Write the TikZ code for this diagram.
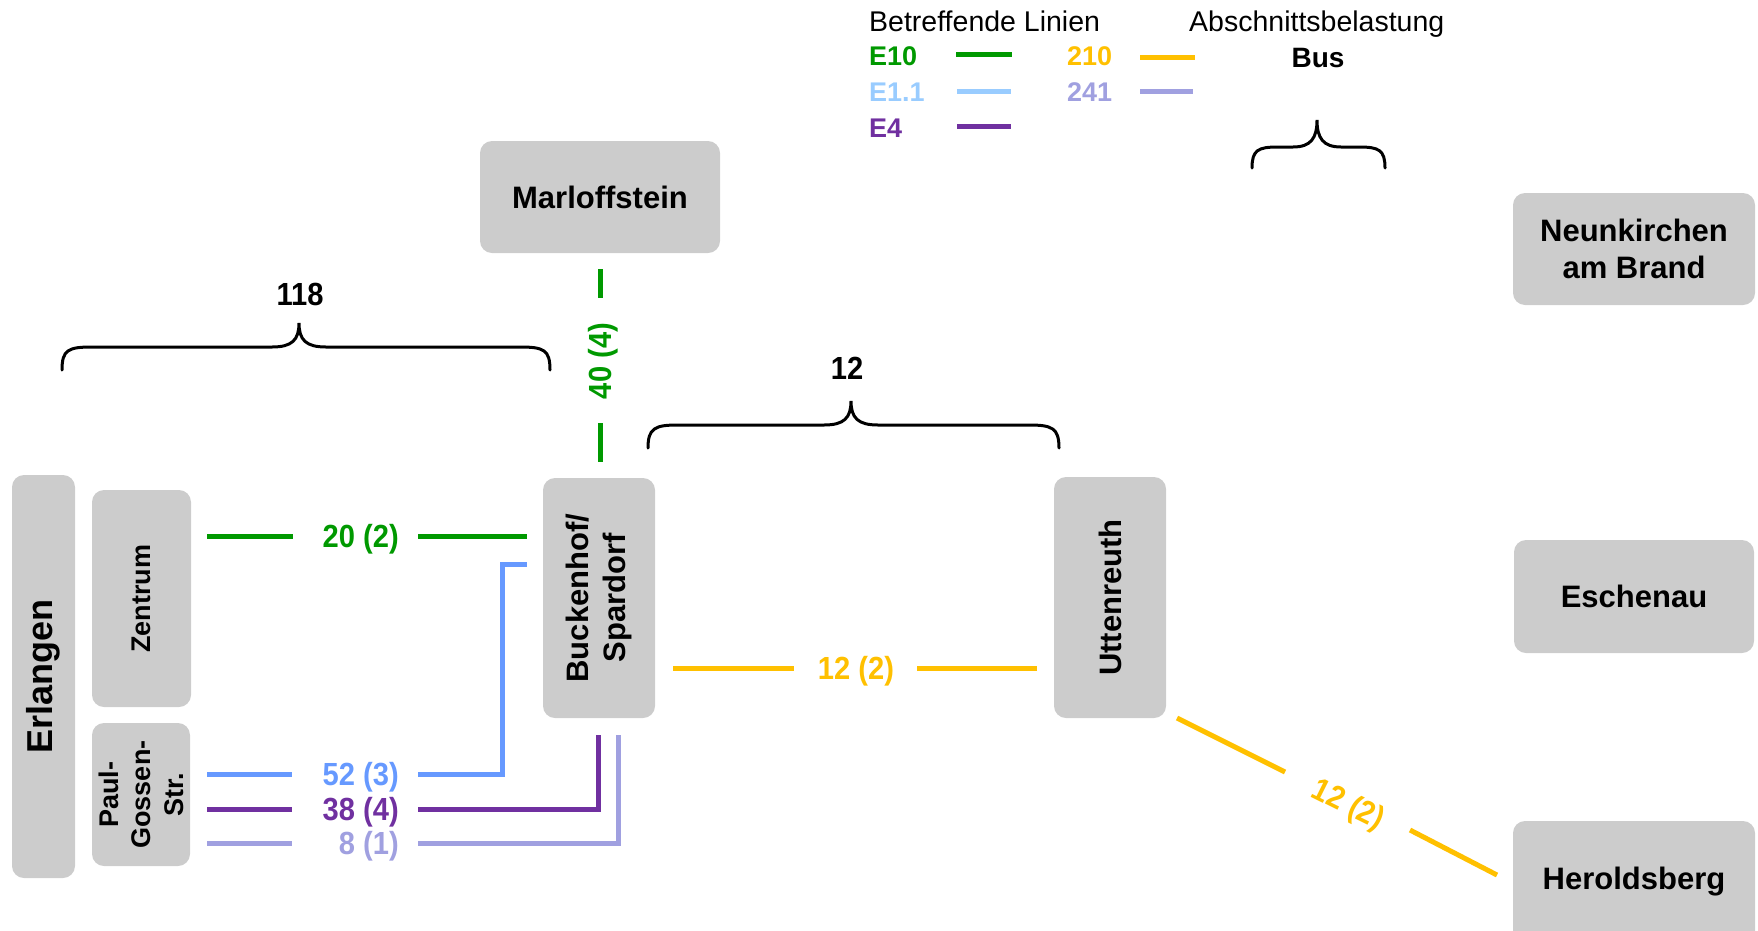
\documentclass[tikz,border=0pt]{standalone}
\usepackage{fontspec}
\setmainfont{Liberation Sans}
\newfontfamily\condfont{Liberation Sans}[FakeStretch=0.91]

\definecolor{boxgray}{HTML}{CCCCCC}
\definecolor{cEten}{HTML}{009900}
\definecolor{cEone}{HTML}{99CCFF}
\definecolor{cEoneline}{HTML}{6699FF}
\definecolor{cEfour}{HTML}{7030A0}
\definecolor{cBusA}{HTML}{FFC000}
\definecolor{cBusB}{RGB}{160,160,224}

\tikzset{
  station/.style={fill=boxgray, rounded corners=12pt, inner sep=0pt, align=center,
    font=\bfseries\fontsize{31}{37}\selectfont},
  smallstation/.style={station, font=\bfseries\fontsize{27}{32.4}\selectfont},
  numlab/.style={inner sep=0pt, text height=23pt, text depth=0pt,
    font=\condfont\bfseries\fontsize{32}{38}\selectfont},
  legtext/.style={inner sep=0pt, anchor=base west, font=\bfseries\fontsize{27}{32}\selectfont},
  hdrtext/.style={inner sep=0pt, anchor=base west, font=\fontsize{28.5}{34}\selectfont},
  route/.style={line width=5pt},
  brace/.style={line width=3pt, line cap=round, black},
}

\begin{document}
\begin{tikzpicture}[x=1pt,y=-1pt]
\useasboundingbox (0,0) rectangle (1758,930);
\clip (0,0) rectangle (1758,930);

% ---------- stations ----------
\node[station, rotate=90, minimum width=403pt, minimum height=63pt,
      font=\bfseries\fontsize{36}{43}\selectfont] (erl) at (43.5,676.5) {Erlangen};
\node[smallstation, rotate=90, minimum width=217pt, minimum height=99pt] (zen) at (141.5,598.5) {Zentrum};
\node[smallstation, rotate=90, minimum width=143pt, minimum height=98pt] (pgs) at (141,794.5) {Paul-\\Gossen-\\Str.};
\node[station, rotate=90, minimum width=240pt, minimum height=112pt] (buc) at (599,598) {Buckenhof/\\Spardorf};
\node[station, minimum width=240pt, minimum height=112pt] (mar) at (600,197) {Marloffstein};
\node[station, rotate=90, minimum width=241pt, minimum height=112pt] (utt) at (1110,597.5) {Uttenreuth};
\node[station, minimum width=242pt, minimum height=112pt] (neu) at (1634,249) {Neunkirchen\\am Brand};
\node[station, minimum width=240pt, minimum height=113pt] (esc) at (1634,596.5) {Eschenau};
\node[station, minimum width=242pt, minimum height=122pt] (her) at (1634,882) {Heroldsberg};

% ---------- E10 Zentrum -- Buckenhof ----------
\node[numlab, text=cEten, anchor=east] (lzen) at (399,536) {20 (2)};
\coordinate (za) at (207,536); \coordinate (zb) at (293,536);
\coordinate (zc) at (418,536); \coordinate (zd) at (527,536);
\draw[route, cEten] (za) -- (zb);
\draw[route, cEten] (zc) -- (zd);

% ---------- E1.1 Paul-Gossen-Str. -- Buckenhof ----------
\node[numlab, text=cEoneline, anchor=east] (lpa) at (399,774) {52 (3)};
\coordinate (pa1) at (207,774); \coordinate (pa2) at (292,774);
\coordinate (pa3) at (418,774); \coordinate (pa4) at (502,774);
\coordinate (pa5) at (502,564); \coordinate (pa6) at (527,564);
\draw[route, cEoneline] (pa1) -- (pa2);
\draw[route, cEoneline] (pa3) -- (pa4) -- (pa5) -- (pa6);

% ---------- E4 ----------
\node[numlab, text=cEfour, anchor=east] (lpb) at (399,809) {38 (4)};
\coordinate (pb1) at (207,809); \coordinate (pb2) at (292,809);
\coordinate (pb3) at (418,809); \coordinate (pb4) at (598,809);
\coordinate (pb5) at (598,735);
\draw[route, cEfour] (pb1) -- (pb2);
\draw[route, cEfour] (pb3) -- (pb4) -- (pb5);

% ---------- 241 ----------
\node[numlab, text=cBusB, anchor=east] (lpc) at (399,843) {8 (1)};
\coordinate (pc1) at (207,843); \coordinate (pc2) at (292,843);
\coordinate (pc3) at (418,843); \coordinate (pc4) at (618,843);
\coordinate (pc5) at (618,735);
\draw[route, cBusB] (pc1) -- (pc2);
\draw[route, cBusB] (pc3) -- (pc4) -- (pc5);

% ---------- E10 Marloffstein -- Buckenhof ----------
\node[numlab, text=cEten, rotate=90] (lmar) at (600,361) {40 (4)};
\coordinate (ma) at (600,269); \coordinate (mb) at (600,298);
\coordinate (mc) at (600,423); \coordinate (md) at (600,462);
\draw[route, cEten] (ma) -- (mb);
\draw[route, cEten] (mc) -- (md);

% ---------- 210 Buckenhof -- Uttenreuth -- Heroldsberg ----------
\node[numlab, text=cBusA] (lutt) at (856,668) {12 (2)};
\coordinate (ua) at (673,668); \coordinate (ub) at (794,668);
\coordinate (uc) at (917,668); \coordinate (ud) at (1037,668);
\draw[route, cBusA] (ua) -- (ub);
\draw[route, cBusA] (uc) -- (ud);

\node[numlab, text=cBusA, rotate=-26.5] (lher) at (1349,803) {12 (2)};
\coordinate (ha) at (1177,718); \coordinate (hb) at (1285,772);
\coordinate (hc) at (1410,830); \coordinate (hd) at (1497,875);
\draw[route, cBusA] (ha) -- (hb);
\draw[route, cBusA] (hc) -- (hd);

% ---------- section load braces ----------
\draw[brace] (62,370) .. controls (62,350) and (68,347) .. (92,347) -- (272,347)
  .. controls (292,347) and (299,340) .. (299,323)
  .. controls (299,340) and (306,347) .. (326,347) -- (520,347)
  .. controls (544,347) and (550,350) .. (550,370);
\node[numlab] (sumerl) at (300,294) {118};

\draw[brace] (648,448) .. controls (648,428) and (655,425) .. (678,425) -- (824,425)
  .. controls (844,425) and (851,418) .. (851,401)
  .. controls (851,418) and (858,425) .. (878,425) -- (1029,425)
  .. controls (1052,425) and (1059,428) .. (1059,448);
\node[numlab] (sumutt) at (847,368) {12};

% ---------- legend ----------
\node[hdrtext] (hdrlines) at (869,31) {Betreffende Linien};
\node[hdrtext] (hdrload) at (1189,31) {Abschnittsbelastung};

\node[legtext, text=cEten] (kEten) at (869,65) {E10};
\node[legtext, text=cEone] (kEone) at (869,101) {E1.1};
\node[legtext, text=cEfour] (kEfour) at (869,137) {E4};
\node[legtext, text=cBusA] (kBusA) at (1067,65) {210};
\node[legtext, text=cBusB] (kBusB) at (1067,101) {241};

\coordinate (k1a) at (956,54);  \coordinate (k1b) at (1012,54);
\coordinate (k2a) at (957,91);  \coordinate (k2b) at (1011,91);
\coordinate (k3a) at (957,126); \coordinate (k3b) at (1011,126);
\coordinate (k4a) at (1140,57); \coordinate (k4b) at (1195,57);
\coordinate (k5a) at (1140,91); \coordinate (k5b) at (1193,91);
\draw[route, cEten] (k1a) -- (k1b);
\draw[route, cEone] (k2a) -- (k2b);
\draw[route, cEfour] (k3a) -- (k3b);
\draw[route, cBusA] (k4a) -- (k4b);
\draw[route, cBusB] (k5a) -- (k5b);

\node[inner sep=0pt, anchor=base, font=\bfseries\fontsize{28}{34}\selectfont] (kbus) at (1318,67) {Bus};
\draw[brace] (1252,168) .. controls (1252,150) and (1258,147) .. (1278,147) -- (1293,147)
  .. controls (1311,147) and (1317,138) .. (1317,120)
  .. controls (1317,138) and (1323,147) .. (1341,147) -- (1359,147)
  .. controls (1379,147) and (1385,150) .. (1385,168);
\end{tikzpicture}
\end{document}
